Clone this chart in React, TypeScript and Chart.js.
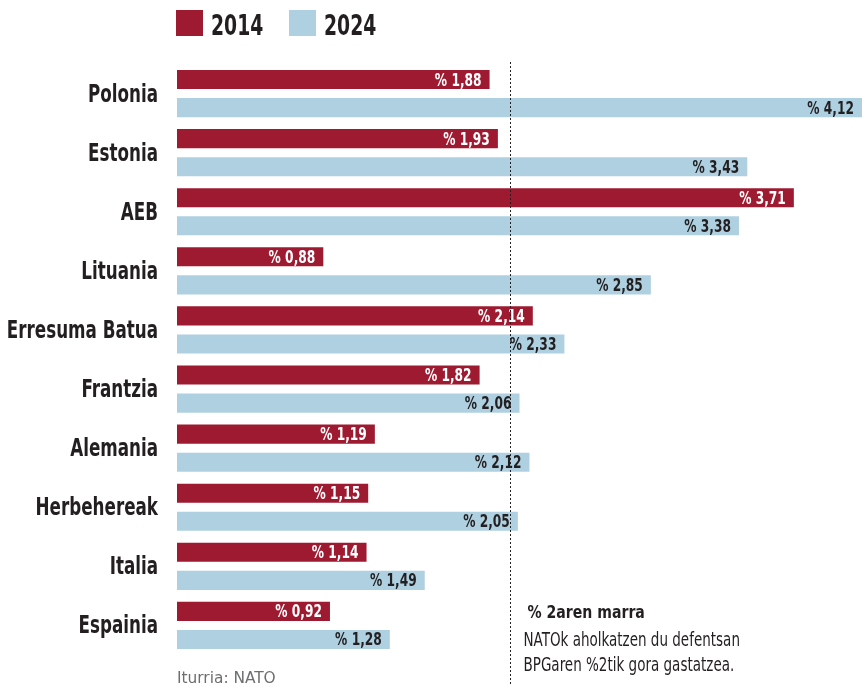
import React, { useEffect, useRef } from "react";
import { Chart, registerables } from "chart.js";

Chart.register(...registerables);

const categories = [
  "Polonia",
  "Estonia",
  "AEB",
  "Lituania",
  "Erresuma Batua",
  "Frantzia",
  "Alemania",
  "Herbehereak",
  "Italia",
  "Espainia",
];
const values2014 = [1.88, 1.93, 3.71, 0.88, 2.14, 1.82, 1.19, 1.15, 1.14, 0.92];
const values2024 = [4.12, 3.43, 3.38, 2.85, 2.33, 2.06, 2.12, 2.05, 1.49, 1.28];
const seriesLabels = ["2014", "2024"];
const seriesColors = ["#9e1a30", "#aed0e1"];
const valueTextColors = ["#ffffff", "#231f20"];
const referenceValue = 2;
const noteTitle = "% 2aren marra";
const noteLines = ["NATOk aholkatzen du defentsan", "BPGaren %2tik gora gastatzea."];
const sourceText = "Iturria: NATO";

const FONT = "'DejaVu Sans Condensed', 'DejaVu Sans', sans-serif";
const TEXT = "#231f20";

const fmt = (v: number) => "% " + v.toFixed(2).replace(".", ",");

function drawText(
  ctx: CanvasRenderingContext2D,
  text: string,
  x: number,
  y: number,
  font: string,
  color: string,
  align: CanvasTextAlign,
  sx: number
) {
  ctx.save();
  ctx.translate(x, y);
  ctx.scale(sx, 1);
  ctx.font = font;
  ctx.fillStyle = color;
  ctx.textAlign = align;
  ctx.textBaseline = "alphabetic";
  ctx.fillText(text, 0, 0);
  ctx.restore();
}

const extrasPlugin = {
  id: "extras",
  afterDatasetsDraw(chart: any) {
    const ctx = chart.ctx;
    chart.data.datasets.forEach((ds: any, di: number) => {
      const meta = chart.getDatasetMeta(di);
      meta.data.forEach((bar: any, i: number) => {
        drawText(ctx, fmt(ds.data[i]), bar.x - 8, bar.y + 6, `bold 17px ${FONT}`, valueTextColors[di], "right", 0.8);
      });
    });
  },
  afterDraw(chart: any) {
    const ctx = chart.ctx;
    const xScale = chart.scales.x;
    const yScale = chart.scales.y;
    const area = chart.chartArea;

    // category labels
    chart.data.labels.forEach((lab: string, i: number) => {
      const y = yScale.getPixelForTick(i);
      drawText(ctx, lab, area.left - 19, y + 8, `bold 25px ${FONT}`, TEXT, "right", 0.745);
    });

    // reference dotted line
    const x = Math.round(xScale.getPixelForValue(referenceValue)) + 0.5;
    ctx.save();
    ctx.strokeStyle = TEXT;
    ctx.lineWidth = 1;
    ctx.setLineDash([2, 2]);
    ctx.beginPath();
    ctx.moveTo(x, 62);
    ctx.lineTo(x, 686);
    ctx.stroke();
    ctx.restore();

    // legend
    let lx = area.left - 1;
    seriesLabels.forEach((lab, i) => {
      ctx.fillStyle = seriesColors[i];
      ctx.fillRect(lx, 10, 27, 26);
      drawText(ctx, lab, lx + 35, 35, `bold 29px ${FONT}`, TEXT, "left", 0.72);
      lx += 113;
    });

    // note
    drawText(ctx, noteTitle, x + 17, 618, `bold 18px ${FONT}`, TEXT, "left", 0.87);
    noteLines.forEach((l, i) =>
      drawText(ctx, l, x + 13, 646 + i * 25, `19px ${FONT}`, TEXT, "left", 0.79)
    );
    // source
    drawText(ctx, sourceText, area.left, 683, `16px ${FONT}`, "#6d6e70", "left", 1.07);
  },
};

export default function App() {
  const ref = useRef<HTMLCanvasElement>(null);
  useEffect(() => {
    if (!ref.current) return;
    const chart = new Chart(ref.current, {
      type: "bar",
      data: {
        labels: categories,
        datasets: [
          { label: seriesLabels[0], data: values2014, backgroundColor: seriesColors[0] },
          { label: seriesLabels[1], data: values2024, backgroundColor: seriesColors[1] },
        ],
      },
      options: {
        indexAxis: "y",
        animation: false,
        responsive: false,
        maintainAspectRatio: false,
        layout: { padding: { top: 64, bottom: 33, left: 0, right: 0 } },
        datasets: { bar: { categoryPercentage: 0.95, barPercentage: 0.68 } },
        plugins: { legend: { display: false }, tooltip: { enabled: false } },
        scales: {
          x: { display: false, min: 0, max: 4.12 },
          y: {
            grid: { display: false, drawTicks: false },
            border: { display: false },
            ticks: { display: false },
            afterFit(scale: any) {
              scale.width = 177;
            },
          },
        },
      },
      plugins: [extrasPlugin],
    });
    return () => chart.destroy();
  }, []);
  return (
    <div style={{ position: "absolute", left: 0, top: 0, width: 862, height: 688, background: "#fff" }}>
      <canvas ref={ref} width={862} height={688} style={{ display: "block" }} />
    </div>
  );
}
